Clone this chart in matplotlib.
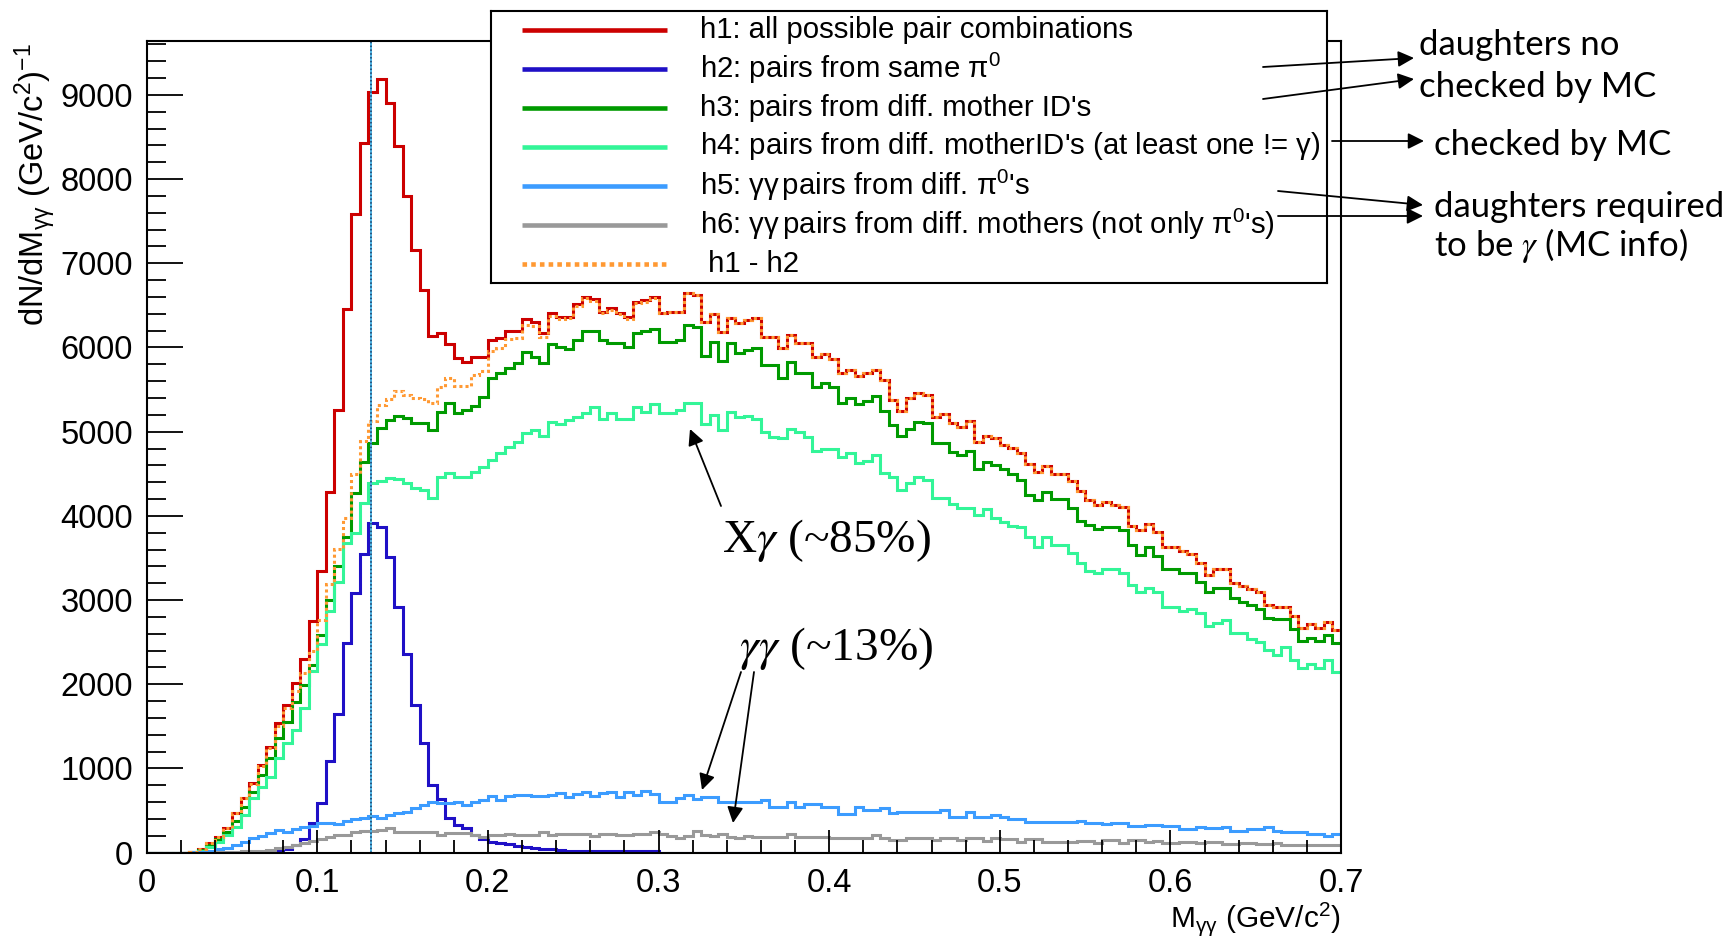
import numpy as np
import matplotlib
matplotlib.use("Agg")
import matplotlib.pyplot as plt
from matplotlib.ticker import MultipleLocator

plt.rcParams["font.family"] = ["Liberation Sans", "DejaVu Sans"]
plt.rcParams["mathtext.fontset"] = "custom"
plt.rcParams["mathtext.rm"] = "Liberation Sans"
plt.rcParams["mathtext.it"] = "Liberation Sans:italic"
plt.rcParams["mathtext.bf"] = "Liberation Sans:bold"

W, H = 1729, 941

# 140 bins of 5 MeV/c^2 between 0 and 0.7 GeV/c^2
edges = np.linspace(0.0, 0.7, 141)

# h1: all possible pair combinations
h1 = [0, 0, 0, 0, 0, 5, 40, 111, 190, 297,
      467, 645, 823, 1041, 1259, 1536, 1754, 2011, 2296, 2752,
      3349, 4288, 5258, 6457, 7585, 8433, 9038, 9185, 8900, 8393,
      7799, 7158, 6683, 6140, 6168, 6041, 5871, 5832, 5883, 5883,
      6089, 6109, 6196, 6196, 6334, 6307, 6168, 6414, 6366, 6366,
      6513, 6604, 6572, 6425, 6465, 6414, 6358, 6544, 6564, 6604,
      6414, 6425, 6425, 6643, 6623, 6307, 6398, 6188, 6346, 6295,
      6326, 6346, 6121, 6121, 5990, 6148, 6050, 6050, 5891, 5923,
      5859, 5693, 5733, 5661, 5693, 5733, 5614, 5376, 5250, 5396,
      5455, 5436, 5178, 5210, 5099, 5059, 5127, 4873, 4949, 4921,
      4842, 4802, 4743, 4612, 4525, 4592, 4493, 4493, 4418, 4300,
      4189, 4129, 4161, 4129, 4109, 3880, 3832, 3904, 3805, 3634,
      3634, 3583, 3543, 3444, 3298, 3369, 3369, 3207, 3167, 3128,
      3100, 2942, 2922, 2922, 2811, 2664, 2712, 2672, 2744, 2645]

# h2: pairs from same pi0
h2 = [0, 0, 0, 0, 0, 0, 0, 0, 0, 0,
      0, 0, 5, 10, 20, 30, 40, 91, 158, 356,
      586, 1093, 1647, 2486, 3088, 3547, 3911, 3864, 3508, 2914,
      2360, 1754, 1299, 804, 633, 408, 329, 289, 210, 158,
      131, 111, 100, 85, 70, 50, 45, 40, 30, 20,
      20, 20, 20, 20, 20, 20, 20, 20, 20, 20] + [0] * 80

# h3: pairs from different mother IDs
h3 = [0, 0, 0, 0, 0, 3, 32, 91, 158, 249,
      380, 538, 724, 922, 1120, 1358, 1556, 1793, 1991, 2229,
      2585, 3001, 3409, 3753, 4276, 4644, 4862, 5048, 5139, 5186,
      5159, 5099, 5099, 5020, 5238, 5337, 5226, 5258, 5300, 5416,
      5634, 5693, 5752, 5812, 5950, 5883, 5812, 6041, 6010, 5978,
      6089, 6196, 6196, 6089, 6057, 6057, 6010, 6176, 6196, 6216,
      6069, 6069, 6089, 6267, 6239, 5899, 6069, 5844, 6049, 5939,
      5970, 5990, 5792, 5792, 5634, 5832, 5693, 5693, 5535, 5574,
      5527, 5345, 5396, 5329, 5368, 5424, 5250, 5079, 4949, 5028,
      5119, 5099, 4862, 4870, 4763, 4723, 4775, 4557, 4644, 4604,
      4553, 4494, 4426, 4248, 4189, 4288, 4197, 4197, 4090, 3939,
      3892, 3840, 3864, 3864, 3832, 3654, 3535, 3634, 3527, 3369,
      3369, 3326, 3326, 3219, 3100, 3139, 3139, 3021, 2981, 2942,
      2894, 2791, 2771, 2771, 2653, 2518, 2546, 2518, 2585, 2486]

# h4: different mother IDs, at least one daughter not a photon
h4 = [0, 0, 0, 0, 0, 2, 15, 71, 131, 210,
      309, 447, 645, 784, 903, 1120, 1299, 1457, 1714, 2162,
      2480, 2874, 3219, 3682, 3793, 4157, 4387, 4418, 4446, 4438,
      4394, 4327, 4307, 4208, 4466, 4513, 4466, 4466, 4525, 4585,
      4664, 4743, 4822, 4881, 4980, 5020, 4953, 5119, 5091, 5139,
      5178, 5218, 5297, 5147, 5218, 5151, 5151, 5289, 5238, 5329,
      5226, 5226, 5258, 5345, 5345, 5087, 5198, 5020, 5238, 5178,
      5190, 5151, 5000, 4940, 4921, 5028, 5000, 4941, 4775, 4795,
      4795, 4703, 4743, 4632, 4656, 4723, 4513, 4466, 4307, 4387,
      4466, 4426, 4208, 4208, 4141, 4090, 4090, 4010, 4078, 3971,
      3931, 3880, 3864, 3753, 3634, 3753, 3654, 3654, 3555, 3444,
      3345, 3326, 3369, 3369, 3326, 3179, 3100, 3139, 3100, 2914,
      2914, 2874, 2890, 2843, 2692, 2724, 2763, 2613, 2605, 2534,
      2506, 2407, 2348, 2439, 2288, 2189, 2241, 2189, 2288, 2150]

# h5: gamma gamma pairs from different pi0s
h5 = [0, 0, 0, 0, 0, 5, 10, 20, 40, 59,
      91, 131, 170, 198, 238, 269, 250, 277, 301, 317,
      348, 356, 340, 380, 396, 408, 435, 408, 447, 475,
      487, 527, 566, 606, 586, 586, 606, 566, 600, 628,
      668, 628, 668, 688, 688, 668, 668, 688, 708, 660,
      700, 716, 668, 708, 716, 660, 716, 680, 732, 700,
      600, 600, 652, 680, 632, 660, 660, 600, 600, 600,
      600, 600, 628, 548, 548, 608, 540, 580, 580, 540,
      540, 460, 460, 548, 508, 508, 532, 468, 480, 480,
      480, 480, 480, 508, 428, 428, 480, 420, 420, 452,
      428, 400, 400, 368, 368, 368, 368, 368, 360, 380,
      352, 352, 340, 352, 352, 320, 320, 332, 332, 320,
      320, 280, 280, 308, 288, 288, 308, 260, 252, 280,
      280, 300, 260, 240, 240, 240, 220, 220, 200, 228]

# h6: gamma gamma pairs from different mothers
h6 = [0, 0, 0, 0, 0, 0, 0, 0, 5, 8,
      12, 16, 20, 26, 32, 51, 71, 91, 119, 143,
      158, 190, 210, 210, 249, 261, 261, 269, 289, 249,
      249, 249, 249, 249, 210, 230, 230, 238, 212, 188,
      212, 212, 228, 212, 212, 212, 240, 212, 228, 220,
      220, 220, 200, 228, 228, 212, 212, 220, 220, 240,
      228, 200, 180, 200, 252, 212, 200, 228, 188, 172,
      200, 188, 188, 188, 188, 228, 188, 188, 188, 188,
      172, 172, 172, 172, 180, 212, 172, 148, 148, 172,
      180, 180, 148, 172, 172, 148, 172, 172, 140, 180,
      160, 160, 132, 160, 160, 132, 132, 132, 132, 140,
      140, 120, 152, 152, 120, 148, 148, 132, 140, 120,
      120, 132, 132, 120, 132, 132, 108, 108, 120, 120,
      108, 108, 120, 92, 92, 92, 92, 92, 92, 92]

h1_minus_h2 = np.array(h1) - np.array(h2)

pi0_mass_line = 0.1313

labels = [
    "h1: all possible pair combinations",
    r"h2: pairs from same $\mathrm{\pi}^{0}$",
    "h3: pairs from diff. mother ID's",
    r"h4: pairs from diff. motherID's (at least one != $\mathrm{\gamma}$)",
    r"h5: $\mathrm{\gamma\gamma}\,$pairs from diff. $\mathrm{\pi}^{0}$'s",
    r"h6: $\mathrm{\gamma\gamma}\,$pairs from diff. mothers (not only $\mathrm{\pi}^{0}$'s)",
    " h1 - h2",
]
colors = ["#cc0000", "#1f10c6", "#009a00", "#33f598", "#3c9cff", "#999999", "#ff9933"]

fig = plt.figure(figsize=(W / 100, H / 100), dpi=100)
ax = fig.add_axes([146.7 / W, 1 - 852.7 / H, (1341 - 146.7) / W, (852.7 - 41) / H])

# histograms
for vals, col in zip([h1, h2, h3, h4, h5, h6], colors[:6]):
    ax.stairs(vals, edges, color=col, lw=2.2, baseline=None)
ax.stairs(h1_minus_h2, edges, color=colors[6], lw=2.2, baseline=None,
          linestyle=(0, (1, 1)))

ax.axvline(pi0_mass_line, color="#4cb4e6", lw=1.4)
ax.axvline(pi0_mass_line, color="#1c3c64", lw=1.1, linestyle=(0, (1, 1.5)))

ax.set_xlim(0, 0.7)
ax.set_ylim(0, 9640)
ax.set_xticks(np.arange(0, 0.71, 0.1))
ax.set_xticklabels(["0", "0.1", "0.2", "0.3", "0.4", "0.5", "0.6", "0.7"])
ax.set_yticks(np.arange(0, 9001, 1000))
ax.xaxis.set_minor_locator(MultipleLocator(0.02))
ax.yaxis.set_minor_locator(MultipleLocator(200))
ax.tick_params(axis="both", which="both", direction="in", width=1.3, labelsize=23.5)
ax.tick_params(axis="y", which="major", length=26, pad=10)
ax.tick_params(axis="y", which="minor", length=13.5)
ax.tick_params(axis="x", which="major", length=16.5, pad=11)
ax.tick_params(axis="x", which="minor", length=9.5)
for sp in ax.spines.values():
    sp.set_linewidth(1.5)

ax.set_xlabel(r"M$_{\mathrm{\gamma\gamma}}$ (GeV/c$^{2}$)", fontsize=21.5, loc="right")
ax.xaxis.set_label_coords(1.0, -0.058)
ax.set_ylabel(r"dN/dM$_{\mathrm{\gamma\gamma}}$ (GeV/c$^{2}$)$^{-1}$", fontsize=23.5, loc="top")
ax.yaxis.set_label_coords(-0.074, 0.997)

# legend box, drawn in pixel coordinates of the canvas
leg_l, leg_r, leg_t, leg_b = 490.7, 1326.5, 11, 283.4
legax = fig.add_axes([leg_l / W, 1 - leg_b / H, (leg_r - leg_l) / W, (leg_b - leg_t) / H])
legax.set_xlim(leg_l, leg_r)
legax.set_ylim(leg_b, leg_t)
legax.set_xticks([])
legax.set_yticks([])
for sp in legax.spines.values():
    sp.set_linewidth(1.5)
for i, (lab, col) in enumerate(zip(labels, colors)):
    yy = 29.5 + 39 * i
    ls = (0, (1, 0.9)) if i == 6 else "-"
    legax.plot([521.6, 667], [yy, yy], color=col, lw=3.3, linestyle=ls,
               solid_capstyle="butt")
    legax.text(700, yy, lab, fontsize=21.2, va="center", ha="left")

# overlay for the hand-made annotations
over = fig.add_axes([0, 0, 1, 1], facecolor="none", zorder=10)
over.set_xlim(0, W)
over.set_ylim(H, 0)
over.axis("off")

arrow = dict(arrowstyle="-|>", color="black", lw=1.3, mutation_scale=24,
             shrinkA=0, shrinkB=0)

serif = dict(fontsize=34, family=["Liberation Serif", "DejaVu Serif"],
             math_fontfamily="stix", va="center", ha="left")
over.text(722, 541, r"X$\gamma$ (~85%)", **serif)
over.annotate("", xy=(690, 429), xytext=(721, 506), arrowprops=arrow)

over.text(739, 648, r"$\gamma\gamma$ (~13%)", **serif)
over.annotate("", xy=(702, 790), xytext=(741, 672), arrowprops=arrow)
over.annotate("", xy=(733, 823), xytext=(754, 672), arrowprops=arrow)

rt = dict(fontsize=25, family="Lato", va="center", ha="left")
over.text(1419, 45, "daughters no", **rt)
over.text(1419, 87, "checked by MC", **rt)
over.text(1434, 145, "checked by MC", **rt)
over.text(1434, 207, "daughters required", **rt)
over.text(1434, 245, r"to be $\gamma$ (MC info)", math_fontfamily="stix", **rt)

over.annotate("", xy=(1414, 58), xytext=(1263, 67), arrowprops=arrow)
over.annotate("", xy=(1414, 79), xytext=(1263, 99), arrowprops=arrow)
over.annotate("", xy=(1424, 141), xytext=(1332, 141), arrowprops=arrow)
over.annotate("", xy=(1423, 205), xytext=(1278, 191), arrowprops=arrow)
over.annotate("", xy=(1423, 216), xytext=(1278, 216), arrowprops=arrow)

fig.savefig("out.png", dpi=100, facecolor="white")
